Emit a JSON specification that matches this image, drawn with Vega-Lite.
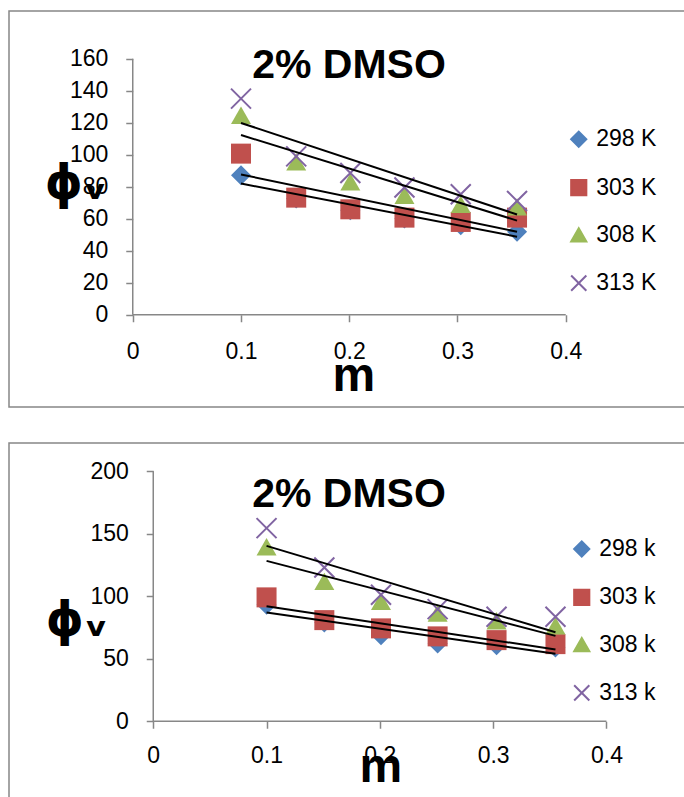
{
  "$schema": "https://vega.github.io/schema/vega-lite/v6.json",
  "usermeta": {"embedOptions": {"actions": false}},
  "padding": {"left": 8, "top": 10, "right": 0, "bottom": 0},
  "spacing": 34,
  "background": "white",
  "datasets": {
    "top": [
      {"T": "298 K", "m": 0.1, "phi": 87.2},
      {"T": "298 K", "m": 0.151, "phi": 72.6},
      {"T": "298 K", "m": 0.201, "phi": 65.3},
      {"T": "298 K", "m": 0.251, "phi": 60.1},
      {"T": "298 K", "m": 0.303, "phi": 55.9},
      {"T": "298 K", "m": 0.355, "phi": 51.8},
      {"T": "303 K", "m": 0.1, "phi": 100.7},
      {"T": "303 K", "m": 0.151, "phi": 73.2},
      {"T": "303 K", "m": 0.201, "phi": 65.9},
      {"T": "303 K", "m": 0.251, "phi": 60.7},
      {"T": "303 K", "m": 0.303, "phi": 58.0},
      {"T": "303 K", "m": 0.355, "phi": 60.7},
      {"T": "308 K", "m": 0.1, "phi": 124.7},
      {"T": "308 K", "m": 0.151, "phi": 95.5},
      {"T": "308 K", "m": 0.201, "phi": 83.0},
      {"T": "308 K", "m": 0.251, "phi": 74.7},
      {"T": "308 K", "m": 0.303, "phi": 69.0},
      {"T": "308 K", "m": 0.355, "phi": 67.4},
      {"T": "313 K", "m": 0.1, "phi": 135.1},
      {"T": "313 K", "m": 0.151, "phi": 99.0},
      {"T": "313 K", "m": 0.201, "phi": 88.6},
      {"T": "313 K", "m": 0.251, "phi": 79.5},
      {"T": "313 K", "m": 0.303, "phi": 75.3},
      {"T": "313 K", "m": 0.355, "phi": 71.1}
    ],
    "bottom": [
      {"T": "298 k", "m": 0.1, "phi": 93.2},
      {"T": "298 k", "m": 0.151, "phi": 79.1},
      {"T": "298 k", "m": 0.201, "phi": 68.9},
      {"T": "298 k", "m": 0.251, "phi": 62.3},
      {"T": "298 k", "m": 0.303, "phi": 60.9},
      {"T": "298 k", "m": 0.355, "phi": 59.1},
      {"T": "303 k", "m": 0.1, "phi": 99.1},
      {"T": "303 k", "m": 0.151, "phi": 80.9},
      {"T": "303 k", "m": 0.201, "phi": 74.3},
      {"T": "303 k", "m": 0.251, "phi": 67.9},
      {"T": "303 k", "m": 0.303, "phi": 64.9},
      {"T": "303 k", "m": 0.355, "phi": 61.7},
      {"T": "308 k", "m": 0.1, "phi": 139.6},
      {"T": "308 k", "m": 0.151, "phi": 111.9},
      {"T": "308 k", "m": 0.201, "phi": 95.9},
      {"T": "308 k", "m": 0.251, "phi": 86.5},
      {"T": "308 k", "m": 0.303, "phi": 80.4},
      {"T": "308 k", "m": 0.355, "phi": 76.4},
      {"T": "313 k", "m": 0.1, "phi": 154.5},
      {"T": "313 k", "m": 0.151, "phi": 123.0},
      {"T": "313 k", "m": 0.201, "phi": 101.2},
      {"T": "313 k", "m": 0.251, "phi": 89.7},
      {"T": "313 k", "m": 0.303, "phi": 83.6},
      {"T": "313 k", "m": 0.355, "phi": 83.6}
    ]
  },
  "config": {
    "view": {"stroke": "#878787", "strokeWidth": 1.5},
    "font": "Liberation Sans",
    "axis": {
      "grid": false,
      "domain": false,
      "tickColor": "#878787",
      "tickWidth": 1.5,
      "tickSize": 7,
      "labelFont": "Liberation Sans",
      "labelFontSize": 23,
      "labelColor": "#000000",
      "titleColor": "#000000"
    },
    "legend": {
      "symbolSize": 230,
      "symbolStrokeWidth": 2,
      "labelFont": "Liberation Sans",
      "labelFontSize": 23,
      "labelColor": "#000000",
      "labelOffset": 6,
      "rowPadding": 23.3,
      "padding": 0
    }
  },
  "vconcat": [
    {
      "width": 680,
      "height": 396,
      "title": {"text": "2% DMSO", "font": "Liberation Sans", "fontSize": 41, "fontWeight": "bold", "color": "#000000", "anchor": "middle", "frame": "group", "baseline": "alphabetic", "offset": -108.25},
      "layer": [
        {
          "data": {"values": [{"a": 0, "b": 160}]},
          "mark": {"type": "rule", "color": "#878787", "strokeWidth": 1.5},
          "encoding": {"x": {"datum": 0, "type": "quantitative"}, "y": {"field": "a", "type": "quantitative"}, "y2": {"field": "b"}}
        },
        {
          "data": {"values": [{"a": 0, "b": 0.4}]},
          "mark": {"type": "rule", "color": "#878787", "strokeWidth": 1.5},
          "encoding": {"x": {"field": "a", "type": "quantitative"}, "x2": {"field": "b"}, "y": {"datum": 0, "type": "quantitative"}}
        },
        {
          "data": {"name": "top"},
          "mark": {"type": "point", "filled": true, "opacity": 1, "size": 400},
          "encoding": {
            "x": {
              "field": "m", "type": "quantitative",
              "scale": {"domain": [-0.114319, 0.513857], "nice": false, "zero": false},
              "axis": {"values": [0, 0.1, 0.2, 0.3, 0.4], "format": ".1~f", "offset": -92.25, "labelBaseline": "alphabetic", "labelPadding": 36.5,
                       "title": "m", "titleFont": "Liberation Sans", "titleFontSize": 48, "titleFontWeight": "bold", "titleBaseline": "alphabetic", "titleAlign": "center", "titleX": 344.25, "titleY": 75.5}
            },
            "y": {
              "field": "phi", "type": "quantitative",
              "scale": {"domain": [-57.66, 189.84], "nice": false, "zero": false},
              "axis": {"values": [0, 20, 40, 60, 80, 100, 120, 140, 160], "offset": -123.75, "labelPadding": 18,
                       "title": "ϕᵥ", "titleFont": "DejaVu Sans", "titleFontSize": 48, "titleFontWeight": "bold", "titleAngle": 0, "titleAlign": "left", "titleBaseline": "alphabetic", "titleX": -88.5, "titleY": 187.25}
            },
            "fill": {"field": "T", "type": "nominal", "scale": {"domain": ["298 K", "303 K", "308 K", "313 K"], "range": ["#4F81BD", "#C0504D", "#9BBB59", "#8064A2"]}, "legend": {"title": null, "orient": "none", "legendX": 558.25, "legendY": 116.75}},
            "stroke": {"field": "T", "type": "nominal", "scale": {"domain": ["298 K", "303 K", "308 K", "313 K"], "range": ["#4F81BD", "#C0504D", "#9BBB59", "#8064A2"]}, "legend": {"title": null, "orient": "none", "legendX": 558.25, "legendY": 116.75}},
            "shape": {"field": "T", "type": "nominal", "scale": {"domain": ["298 K", "303 K", "308 K", "313 K"], "range": ["diamond", "square", "triangle-up", "M-1,-1L1,1M-1,1L1,-1"]}, "legend": {"title": null, "orient": "none", "legendX": 558.25, "legendY": 116.75}},
            "strokeWidth": {"condition": {"test": "datum.T === '313 K'", "value": 2}, "value": 0}
          }
        },
        {
          "data": {"name": "top"},
          "transform": [{"regression": "phi", "on": "m", "groupby": ["T"], "method": "linear"}],
          "mark": {"type": "line", "color": "#000000", "strokeWidth": 2},
          "encoding": {
            "x": {"field": "m", "type": "quantitative"},
            "y": {"field": "phi", "type": "quantitative"},
            "detail": {"field": "T", "type": "nominal"}
          }
        }
      ]
    },
    {
      "width": 680,
      "height": 363,
      "title": {"text": "2% DMSO", "font": "Liberation Sans", "fontSize": 41, "fontWeight": "bold", "color": "#000000", "anchor": "middle", "frame": "group", "baseline": "alphabetic", "offset": -105.35},
      "layer": [
        {
          "data": {"values": [{"a": 0, "b": 200}]},
          "mark": {"type": "rule", "color": "#878787", "strokeWidth": 1.5},
          "encoding": {"x": {"datum": 0, "type": "quantitative"}, "y": {"field": "a", "type": "quantitative"}, "y2": {"field": "b"}}
        },
        {
          "data": {"values": [{"a": 0, "b": 0.4}]},
          "mark": {"type": "rule", "color": "#878787", "strokeWidth": 1.5},
          "encoding": {"x": {"field": "a", "type": "quantitative"}, "x2": {"field": "b"}, "y": {"datum": 0, "type": "quantitative"}}
        },
        {
          "data": {"name": "bottom"},
          "mark": {"type": "point", "filled": true, "opacity": 1, "size": 400},
          "encoding": {
            "x": {
              "field": "m", "type": "quantitative",
              "scale": {"domain": [-0.127317, 0.47286], "nice": false, "zero": false},
              "axis": {"values": [0, 0.1, 0.2, 0.3, 0.4], "format": ".1~f", "offset": -84.75, "labelBaseline": "alphabetic", "labelPadding": 34.5,
                       "title": "m", "titleFont": "Liberation Sans", "titleFontSize": 48, "titleFontWeight": "bold", "titleBaseline": "alphabetic", "titleAlign": "center", "titleX": 371.25, "titleY": 60.5}
            },
            "y": {
              "field": "phi", "type": "quantitative",
              "scale": {"domain": [-67.8, 222.6], "nice": false, "zero": false},
              "axis": {"values": [0, 50, 100, 150, 200], "offset": -144.25, "labelPadding": 18,
                       "title": "ϕᵥ", "titleFont": "DejaVu Sans", "titleFontSize": 48, "titleFontWeight": "bold", "titleAngle": 0, "titleAlign": "left", "titleBaseline": "alphabetic", "titleX": -108, "titleY": 192.75}
            },
            "fill": {"field": "T", "type": "nominal", "scale": {"domain": ["298 k", "303 k", "308 k", "313 k"], "range": ["#4F81BD", "#C0504D", "#9BBB59", "#8064A2"]}, "legend": {"title": null, "orient": "none", "legendX": 561.25, "legendY": 94.5}},
            "stroke": {"field": "T", "type": "nominal", "scale": {"domain": ["298 k", "303 k", "308 k", "313 k"], "range": ["#4F81BD", "#C0504D", "#9BBB59", "#8064A2"]}, "legend": {"title": null, "orient": "none", "legendX": 561.25, "legendY": 94.5}},
            "shape": {"field": "T", "type": "nominal", "scale": {"domain": ["298 k", "303 k", "308 k", "313 k"], "range": ["diamond", "square", "triangle-up", "M-1,-1L1,1M-1,1L1,-1"]}, "legend": {"title": null, "orient": "none", "legendX": 561.25, "legendY": 94.5}},
            "strokeWidth": {"condition": {"test": "datum.T === '313 k'", "value": 2}, "value": 0}
          }
        },
        {
          "data": {"name": "bottom"},
          "transform": [{"regression": "phi", "on": "m", "groupby": ["T"], "method": "linear"}],
          "mark": {"type": "line", "color": "#000000", "strokeWidth": 2},
          "encoding": {
            "x": {"field": "m", "type": "quantitative"},
            "y": {"field": "phi", "type": "quantitative"},
            "detail": {"field": "T", "type": "nominal"}
          }
        }
      ]
    }
  ],
  "resolve": {"scale": {"fill": "independent", "stroke": "independent", "shape": "independent"}}
}
